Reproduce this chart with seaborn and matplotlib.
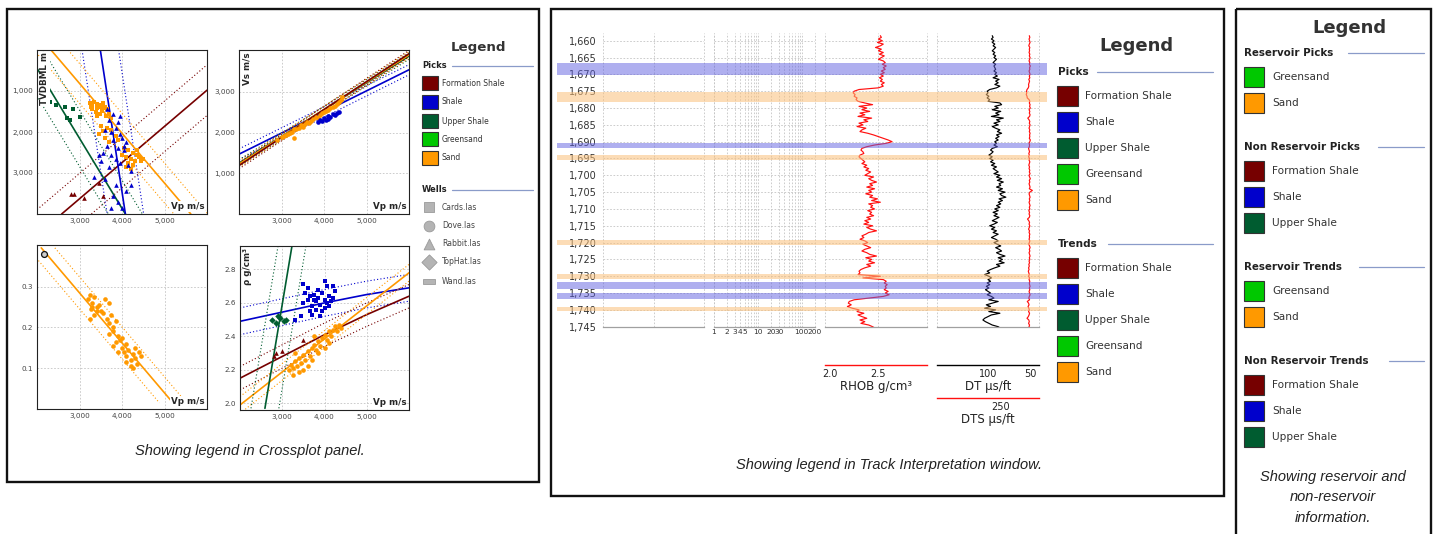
import matplotlib
matplotlib.use('Agg')
import matplotlib.pyplot as plt
from matplotlib.patches import Rectangle
from matplotlib.ticker import FuncFormatter, NullFormatter
import numpy as np
import seaborn as sns

W, H = 1436, 534

# ---------------- legend / facies definitions ----------------
facies = ['Formation Shale', 'Shale', 'Upper Shale', 'Greensand', 'Sand']
facies_colors = ['#760000', '#0000cc', '#005c30', '#00c800', '#ff9900']
pal = dict(zip(facies, facies_colors))
reservoir = ['Greensand', 'Sand']
non_reservoir = ['Formation Shale', 'Shale', 'Upper Shale']
wells = ['Cards.las', 'Dove.las', 'Rabbit.las', 'TopHat.las', 'Wand.las']

# ---------------- crossplot 1: Vp vs TVDBML ----------------
tl_sand_vp = [3250, 3300, 3350, 3400, 3450, 3500, 3550, 3300, 3380, 3420, 3600, 3650, 3520, 3700, 3480,
              3280, 3560, 3620, 3750, 3400, 3500, 3650, 3750, 3450, 3600, 3850, 3700, 3900, 3550,
              4050, 4150, 4250, 4350, 4100, 4200, 4300, 4400, 4150, 4250, 4450, 4000, 4350, 4500, 4200, 4100]
tl_sand_depth = [1300, 1350, 1280, 1320, 1400, 1350, 1300, 1450, 1500, 1420, 1380, 1450, 1480, 1550, 1560,
                 1380, 1420, 1600, 1650, 1600, 1850, 1900, 1950, 2050, 2150, 2100, 2250, 2200, 1980,
                 2400, 2450, 2500, 2550, 2600, 2650, 2700, 2600, 2750, 2800, 2700, 2550, 2450, 2650, 2900, 2850]
tl_shale_vp = [3650, 3800, 3700, 3900, 3850, 3750, 3950, 4000, 3800, 4100, 3650, 3900, 4050, 3550, 3750,
               3850, 3950, 4150, 3700, 3500, 3450, 4200, 3600, 3350, 3850, 3800, 4100, 4200, 3900, 4000,
               3750, 4050, 3600, 3950]
tl_shale_depth = [1450, 1550, 1700, 1750, 1900, 2000, 2050, 2150, 2200, 2250, 2350, 2400, 2450, 2500, 2550,
                  2650, 2750, 2800, 2850, 2700, 2550, 2950, 3150, 3100, 3300, 3550, 3450, 3300, 3700, 3850,
                  3850, 2350, 1950, 1600]
tl_upper_vp = [2300, 2450, 2650, 2700, 2780, 2850, 3020]
tl_upper_depth = [1270, 1330, 1390, 1650, 1700, 1450, 1630]
tl_fshale_vp = [2800, 2880, 3100, 3450, 3550]
tl_fshale_depth = [3500, 3500, 3600, 3250, 3550]
# trend lines: [solid, lower envelope, upper envelope] as (vp, depth)
tl_lines = {
    'Formation Shale': [([2580, 6000], [4000, 980]), ([1880, 6000], [4000, 362]), ([3280, 6000], [4000, 1598])],
    'Upper Shale': [([1740, 4080], [0, 4000]), ([1340, 3680], [0, 4000]), ([2140, 4480], [0, 4000])],
    'Shale': [([3490, 4080], [0, 4000]), ([3060, 3650], [0, 4000]), ([3920, 4510], [0, 4000])],
    'Sand': [([2330, 5620], [0, 4000]), ([1930, 5220], [0, 4000]), ([2730, 6020], [0, 4000])],
}

# ---------------- crossplot 2: Vp vs Vs ----------------
tr_sand_vp = [2900, 3000, 3050, 3100, 3150, 3200, 3250, 3300, 3350, 3400, 3450, 3500, 3550, 3600, 3650, 3700,
              3750, 3800, 3850, 3900, 3950, 4000, 4050, 4100, 4150, 4200, 4250, 4300, 4350, 4400, 4420, 3300]
tr_sand_vs = [1830, 1880, 1920, 1950, 1960, 2000, 2020, 2090, 2080, 2120, 2180, 2150, 2210, 2260, 2240, 2290,
              2330, 2380, 2350, 2440, 2470, 2510, 2540, 2560, 2600, 2620, 2660, 2700, 2750, 2800, 2880, 1860]
tr_shale_vp = [3850, 3900, 3950, 4000, 4050, 4100, 4150, 4200, 4250, 4300, 4350, 4100]
tr_shale_vs = [2260, 2300, 2280, 2350, 2320, 2400, 2380, 2450, 2430, 2480, 2500, 2330]
tr_lines = {
    'Shale': [([2000, 6000], [1470, 3544]), ([2000, 6000], [1340, 3420]), ([2000, 6000], [1600, 3670])],
    'Upper Shale': [([2000, 6000], [1250, 3880]), ([2000, 6000], [1170, 3800]), ([2000, 6000], [1330, 3960])],
    'Sand': [([2000, 6000], [1227, 3910]), ([2000, 6000], [1150, 3830]), ([2000, 6000], [1305, 3990])],
    'Formation Shale': [([2000, 6000], [1190, 3940]), ([2000, 6000], [1110, 3860]), ([2000, 6000], [1270, 4020])],
}

# ---------------- crossplot 3: Vp vs Poisson ratio ----------------
bl_sand_vp = [3200, 3250, 3300, 3350, 3400, 3280, 3350, 3450, 3500, 3550, 3250, 3600, 3400, 3300, 3700,
              3650, 3700, 3750, 3800, 3850, 3780, 3700, 3900, 3950, 3850, 4000, 3800, 4100,
              4000, 4050, 4100, 4150, 4200, 4250, 4300, 4350, 4100, 4200, 4400, 4450, 3900, 4300, 4250]
bl_sand_pr = [0.27, 0.28, 0.26, 0.275, 0.25, 0.245, 0.23, 0.255, 0.24, 0.235, 0.22, 0.27, 0.24, 0.25, 0.26,
              0.22, 0.21, 0.23, 0.20, 0.215, 0.19, 0.185, 0.18, 0.17, 0.165, 0.175, 0.155, 0.16,
              0.15, 0.14, 0.13, 0.145, 0.12, 0.135, 0.125, 0.11, 0.115, 0.105, 0.14, 0.13, 0.14, 0.15, 0.10]
bl_ref_vp = [2160]
bl_ref_pr = [0.38]
bl_lines = {
    'Sand': [([2100, 5200], [0.395, 0.015]), ([1780, 4880], [0.395, 0.015]), ([2420, 5520], [0.395, 0.015])],
}

# ---------------- crossplot 4: Vp vs density ----------------
br_shale_vp = [3500, 3600, 3700, 3750, 3800, 3850, 3900, 3950, 4000, 4050, 4100, 3650, 3700, 3800, 3900, 4000,
               4150, 4200, 3550, 3600, 4050, 4250, 3450, 3850, 3750, 3950, 4100, 3650, 3300, 3500, 4000, 4200]
br_shale_rho = [2.60, 2.62, 2.58, 2.65, 2.61, 2.63, 2.59, 2.66, 2.62, 2.60, 2.64, 2.55, 2.53, 2.56, 2.52, 2.57,
                2.61, 2.63, 2.66, 2.69, 2.70, 2.67, 2.52, 2.68, 2.62, 2.55, 2.58, 2.64, 2.50, 2.71, 2.73, 2.70]
br_upper_vp = [2750, 2850, 2950, 3050, 2900, 3100]
br_upper_rho = [2.50, 2.48, 2.51, 2.49, 2.52, 2.50]
br_fshale_vp = [2800, 2850, 3000, 3500]
br_fshale_rho = [2.28, 2.30, 2.31, 2.38]
br_sand_vp = [3150, 3200, 3250, 3300, 3350, 3400, 3450, 3500, 3550, 3600, 3650, 3700, 3750, 3800, 3850, 3900,
              3950, 4000, 4050, 4100, 4150, 4200, 4250, 4300, 4350, 4400, 3250, 3400, 3600, 3700, 3300, 3850,
              4000, 4100, 3500, 3750]
br_sand_rho = [2.20, 2.23, 2.21, 2.25, 2.22, 2.27, 2.24, 2.29, 2.26, 2.31, 2.28, 2.33, 2.35, 2.32, 2.37, 2.34,
               2.39, 2.41, 2.38, 2.43, 2.40, 2.44, 2.46, 2.43, 2.47, 2.45, 2.17, 2.19, 2.22, 2.26, 2.30, 2.30,
               2.33, 2.36, 2.20, 2.40]
br_curve_vp = [2000, 3000, 4000, 5000, 6000]
br_lines = {
    'Shale': [(br_curve_vp, [2.49, 2.545, 2.60, 2.65, 2.69]), (br_curve_vp, [2.41, 2.465, 2.52, 2.57, 2.61]),
              (br_curve_vp, [2.57, 2.625, 2.68, 2.73, 2.77])],
    'Formation Shale': [(br_curve_vp, [2.15, 2.28, 2.41, 2.53, 2.64]), (br_curve_vp, [2.08, 2.21, 2.34, 2.46, 2.57]),
                        (br_curve_vp, [2.22, 2.35, 2.48, 2.60, 2.71])],
    'Sand': [([2000, 6000], [1.99, 2.78]), ([2000, 6000], [1.94, 2.73]), ([2000, 6000], [2.04, 2.83])],
    'Upper Shale': [([2590, 3230], [1.97, 2.94]), ([2260, 2900], [1.97, 2.94]), ([2920, 3560], [1.97, 2.94])],
}

# ---------------- well logs (0.5 m samples) ----------------
depth = np.arange(1658.5, 1746.0, 0.5)
rhob = [2.52, 2.53, 2.50, 2.54, 2.49, 2.55, 2.52, 2.47, 2.53, 2.50,
        2.55, 2.51, 2.56, 2.53, 2.50, 2.55, 2.57, 2.54, 2.58, 2.55,
        2.57, 2.53, 2.56, 2.52, 2.55, 2.51, 2.54, 2.52, 2.56, 2.53,
        2.55, 2.50, 2.30, 2.25, 2.24, 2.26, 2.25, 2.28, 2.27, 2.29,
        2.36, 2.44, 2.30, 2.38, 2.33, 2.41, 2.31, 2.36, 2.29, 2.43,
        2.35, 2.39, 2.30, 2.34, 2.28, 2.37, 2.33, 2.31, 2.39, 2.45,
        2.50, 2.55, 2.60, 2.64, 2.58, 2.46, 2.38, 2.33, 2.32, 2.34,
        2.35, 2.31, 2.30, 2.32, 2.34, 2.36, 2.33, 2.38, 2.35, 2.40,
        2.37, 2.42, 2.39, 2.36, 2.45, 2.40, 2.43, 2.48, 2.41, 2.44,
        2.38, 2.46, 2.40, 2.43, 2.37, 2.44, 2.41, 2.49, 2.43, 2.52,
        2.40, 2.44, 2.42, 2.46, 2.39, 2.43, 2.41, 2.45, 2.38, 2.42,
        2.36, 2.40, 2.35, 2.44, 2.38, 2.42, 2.48, 2.40, 2.37, 2.33,
        2.35, 2.31, 2.36, 2.39, 2.34, 2.38, 2.42, 2.36, 2.33, 2.38,
        2.41, 2.48, 2.37, 2.43, 2.40, 2.46, 2.38, 2.42, 2.36, 2.32,
        2.30, 2.31, 2.29, 2.52, 2.34, 2.55, 2.58, 2.56, 2.59, 2.57,
        2.58, 2.56, 2.60, 2.57, 2.61, 2.55, 2.40, 2.25, 2.20, 2.19,
        2.22, 2.18, 2.23, 2.30, 2.28, 2.35, 2.29, 2.33, 2.38, 2.31,
        2.36, 2.32, 2.40, 2.44, 2.47]
dt = [95, 94, 96, 93, 95, 92, 94, 91, 93, 95,
      92, 94, 91, 93, 90, 92, 94, 91, 93, 92,
      91, 93, 90, 92, 89, 94, 87, 91, 88, 92,
      86, 90, 98, 101, 100, 102, 99, 101, 98, 100,
      86, 84, 92, 88, 95, 85, 91, 87, 96, 82,
      90, 86, 93, 88, 95, 91, 86, 89, 84, 90,
      87, 91, 88, 92, 90, 93, 89, 95, 97, 94,
      96, 99, 95, 98, 94, 97, 92, 96, 90, 94,
      91, 88, 93, 86, 90, 84, 89, 82, 87, 85,
      90, 83, 88, 80, 86, 84, 79, 87, 83, 88,
      85, 90, 86, 92, 88, 94, 89, 93, 87, 91,
      95, 89, 93, 98, 92, 96, 90, 94, 88, 92,
      96, 91, 88, 93, 89, 85, 91, 87, 84, 90,
      86, 80, 88, 83, 87, 81, 90, 86, 92, 97,
      101, 98, 104, 99, 96, 100, 97, 101, 98, 102,
      99, 103, 100, 97, 101, 96, 93, 99, 88, 95,
      102, 97, 104, 91, 99, 86, 96, 100, 104, 106,
      103, 99, 95, 88, 85]
dts = [138, 136, 139, 137, 135, 138, 140, 136, 138, 137,
       139, 136, 138, 135, 137, 139, 136, 138, 134, 137,
       136, 139, 137, 135, 138, 136, 140, 137, 139, 141,
       140, 142, 147, 149, 148, 150, 147, 146, 139, 136,
       138, 135, 137, 134, 139, 136, 138, 135, 137, 144,
       139, 136, 138, 135, 137, 139, 136, 138, 135, 137,
       136, 138, 134, 136, 139, 137, 138, 141, 139, 137,
       140, 138, 141, 137, 139, 136, 138, 140, 137, 139,
       136, 138, 135, 139, 137, 134, 138, 136, 139, 137,
       135, 138, 126, 136, 139, 137, 135, 138, 136, 139,
       137, 135, 138, 136, 140, 137, 139, 136, 138, 145,
       140, 137, 139, 136, 138, 141, 137, 139, 136, 138,
       137, 139, 136, 138, 140, 137, 135, 138, 136, 139,
       137, 135, 138, 136, 139, 137, 140, 138, 141, 139,
       142, 140, 138, 141, 137, 139, 136, 138, 137, 135,
       138, 136, 139, 137, 135, 138, 140, 137, 146, 141,
       139, 143, 140, 138, 141, 137, 139, 142, 147, 140,
       138, 141, 137, 139, 136]
depth_ticks = list(range(1660, 1750, 5))
shale_band_top = [1666.6, 1690.3, 1731.8, 1735.0]
shale_band_base = [1670.2, 1692.0, 1733.9, 1736.8]
sand_band_top = [1675.3, 1694.0, 1719.2, 1729.3, 1739.0]
sand_band_base = [1678.1, 1695.5, 1720.7, 1730.9, 1740.3]
log_ticks = [1, 2, 3, 4, 5, 10, 20, 30, 100, 200]
log_minor = [6, 7, 8, 9, 40, 50, 60, 70, 80, 90]

# ---------------- figure ----------------
sns.set_style('white')
plt.rcParams['font.family'] = ['DejaVu Sans']
fig = plt.figure(figsize=(W / 100, H / 100), dpi=100)


def px_axes(x0, y0, x1, y1):
    return fig.add_axes([x0 / W, 1 - y1 / H, (x1 - x0) / W, (y1 - y0) / H])


bg = px_axes(0, 0, W, H)
bg.set_xlim(0, W)
bg.set_ylim(H, 0)
bg.axis('off')
for x0, y0, x1, y1 in [(7, 9, 539, 482), (551, 9, 1224, 496), (1236, 9, 1431, 560)]:
    bg.add_patch(Rectangle((x0, y0), x1 - x0, y1 - y0, fill=False, lw=1.7, ec='#111111'))

GRID = dict(color='#c4c4c4', linestyle=(0, (2, 2)), linewidth=0.6)
comma = FuncFormatter(lambda v, p: f'{v:,.0f}')
onedec = FuncFormatter(lambda v, p: f'{v:.1f}')


def crossplot(box, points, lines, ylim, yticks, yfmt, ylabel):
    ax = px_axes(*box)
    ax.set_axisbelow(True)
    for fac, segs in lines.items():
        for i, (xs, ys) in enumerate(segs):
            sns.lineplot(x=xs, y=ys, ax=ax, color=pal[fac], sort=False, estimator=None,
                         linewidth=1.2 if i == 0 else 0.8,
                         linestyle='-' if i == 0 else (0, (1, 2)))
    for fac, xs, ys, mk in points:
        sns.scatterplot(x=xs, y=ys, ax=ax, color=pal[fac], marker=mk, s=11,
                        linewidth=0, zorder=3)
    ax.set_xlim(2000, 6000)
    ax.set_ylim(*ylim)
    ax.set_xticks([3000, 4000, 5000])
    ax.xaxis.set_major_formatter(comma)
    ax.set_yticks(yticks)
    ax.yaxis.set_major_formatter(yfmt)
    ax.tick_params(labelsize=5.2, labelcolor='#444444', length=0, pad=3)
    ax.grid(True, **GRID)
    for s in ax.spines.values():
        s.set_color('#222222')
        s.set_linewidth(0.8)
    ax.set_xlabel('')
    ax.set_ylabel('')
    box_kw = dict(fc='white', ec='none', pad=0.6)
    ax.text(0.985, 0.02, 'Vp m/s', transform=ax.transAxes, ha='right', va='bottom',
            fontsize=6.3, fontweight='bold', bbox=box_kw, zorder=6)
    if ylabel:
        ax.text(0.02, 0.985, ylabel, transform=ax.transAxes, rotation=90, ha='left', va='top',
                fontsize=6.3, fontweight='bold', bbox=box_kw, zorder=6)
    return ax


crossplot((37, 50, 207, 214),
          [('Sand', tl_sand_vp, tl_sand_depth, 's'), ('Shale', tl_shale_vp, tl_shale_depth, '^'),
           ('Upper Shale', tl_upper_vp, tl_upper_depth, 's'),
           ('Formation Shale', tl_fshale_vp, tl_fshale_depth, '^')],
          tl_lines, (4000, 0), [1000, 2000, 3000], comma, 'TVDBML m')
crossplot((239, 50, 409, 214),
          [('Sand', tr_sand_vp, tr_sand_vs, 'o'), ('Shale', tr_shale_vp, tr_shale_vs, 'o')],
          tr_lines, (0, 4030), [1000, 2000, 3000], comma, 'Vs m/s')
ax_bl = crossplot((37, 245, 207, 409), [('Sand', bl_sand_vp, bl_sand_pr, 'o')],
                  bl_lines, (0, 0.402), [0.1, 0.2, 0.3], onedec, None)
sns.scatterplot(x=bl_ref_vp, y=bl_ref_pr, ax=ax_bl, marker='o', s=18, color='#cccccc',
                edgecolor='#111111', linewidth=0.9, zorder=4)
ax_bl.set_ylim(0, 0.402)
crossplot((240, 246, 409, 410),
          [('Sand', br_sand_vp, br_sand_rho, 'o'), ('Shale', br_shale_vp, br_shale_rho, 's'),
           ('Upper Shale', br_upper_vp, br_upper_rho, 'D'),
           ('Formation Shale', br_fshale_vp, br_fshale_rho, '^')],
          br_lines, (1.96, 2.94), [2.0, 2.2, 2.4, 2.6, 2.8], onedec, 'ρ g/cm³')

# ---------------- legend helpers ----------------
LINE_C = '#8a9bc9'


def section(x, y, title, lx0, lx1, fs):
    bg.text(x, y, title, fontsize=fs, fontweight='bold', va='center', ha='left', color='#222222')
    bg.plot([lx0, lx1], [y, y], color=LINE_C, lw=0.9)


def swatches(x, ys, labels, w, h, tx, fs):
    for y, lab in zip(ys, labels):
        bg.add_patch(Rectangle((x, y - h / 2), w, h, fc=pal[lab], ec='#333333', lw=0.8))
        bg.text(tx, y, lab, fontsize=fs, va='center', ha='left', color='#333333')


# crossplot legend
bg.text(478, 47, 'Legend', fontsize=9.6, fontweight='bold', ha='center', va='center', color='#333333')
section(422, 66, 'Picks', 452, 533, 6)
swatches(422, [83, 102, 121, 139, 158], facies, 16, 14, 442, 5.5)
section(422, 190, 'Wells', 452, 533, 6)
well_y = [207, 226, 244, 262, 281]
for mk, y in zip(['s', 'o', '^', 'D'], well_y):
    bg.scatter([429], [y], marker=mk, s=60, color='#b4b4b4', edgecolor='#9a9a9a', linewidth=0.6)
for y, lab in zip(well_y, wells):
    bg.text(442, y, lab, fontsize=5.5, va='center', ha='left', color='#444444')
bg.add_patch(Rectangle((423, well_y[4] - 2.5), 12, 5, fc='#b4b4b4', ec='#9a9a9a', lw=0.6))

# track legend
bg.text(1136, 46, 'Legend', fontsize=13, fontweight='bold', ha='center', va='center', color='#333333')
section(1058, 72, 'Picks', 1097, 1213, 7.6)
swatches(1057, [96, 122, 148, 174, 200], facies, 21, 20, 1085, 7.6)
section(1058, 244, 'Trends', 1108, 1213, 7.6)
swatches(1057, [268, 294, 320, 346, 372], facies, 21, 20, 1085, 7.6)

# reservoir legend
bg.text(1349, 28, 'Legend', fontsize=13, fontweight='bold', ha='center', va='center', color='#333333')
section(1244, 53, 'Reservoir Picks', 1348, 1424, 7.4)
swatches(1244, [77, 103], reservoir, 20, 20, 1272, 7.6)
section(1244, 147, 'Non Reservoir Picks', 1378, 1424, 7.4)
swatches(1244, [171, 197, 223], non_reservoir, 20, 20, 1272, 7.6)
section(1244, 267, 'Reservoir Trends', 1359, 1424, 7.4)
swatches(1244, [291, 317], reservoir, 20, 20, 1272, 7.6)
section(1244, 361, 'Non Reservoir Trends', 1389, 1424, 7.4)
swatches(1244, [385, 411, 437], non_reservoir, 20, 20, 1272, 7.6)

# captions
cap = dict(fontsize=10.5, style='italic', family=['Liberation Sans', 'DejaVu Sans'],
           ha='center', va='center', color='#222222')
bg.text(250, 451, 'Showing legend in Crossplot panel.', **cap)
bg.text(889, 465, 'Showing legend in Track Interpretation window.', **cap)
bg.text(1333, 477, 'Showing reservoir and', **cap)
bg.text(1333, 497, 'non-reservoir', **cap)
bg.text(1333, 518, 'information.', **cap)

# ---------------- tracks ----------------
T_TOP, T_BOT = 33, 326.7
DEPTH_LIM = (1745, 1657.7)


def track(x0, x1, xlim, vlines, log=False):
    ax = px_axes(x0, T_TOP, x1, T_BOT)
    ax.set_facecolor('none')
    if log:
        ax.set_xscale('log')
    ax.set_xlim(*xlim)
    ax.set_ylim(*DEPTH_LIM)
    ax.set_yticks(depth_ticks)
    ax.yaxis.grid(True, **GRID)
    for v in vlines:
        ax.axvline(v, clip_on=False, **GRID)
    for side in ['top', 'left', 'right']:
        ax.spines[side].set_visible(False)
    ax.spines['bottom'].set_color('#a0a0a0')
    ax.spines['bottom'].set_linewidth(0.9)
    ax.tick_params(axis='y', labelleft=False, length=0)
    ax.tick_params(axis='x', length=0)
    ax.set_xticks([])
    return ax


t1 = track(603, 704, (0, 1), [0, 0.5, 1])
t1.tick_params(axis='y', labelleft=True, labelsize=7, labelcolor='#333333', length=3,
               color='#999999', width=0.6, pad=1.5)
t1.yaxis.set_major_formatter(comma)

t2 = track(714, 815, (1, 200), [1, 200], log=True)
t2.set_xticks(log_ticks)
t2.set_xticklabels([str(v) for v in log_ticks])
t2.set_xticks(log_minor, minor=True)
t2.xaxis.set_minor_formatter(NullFormatter())
t2.xaxis.grid(True, which='both', **GRID)
t2.tick_params(axis='x', which='both', length=0, labelsize=5.4, labelcolor='#333333', pad=2)

t3 = track(825, 927, (1.95, 3.0), [1.95, 2.5, 3.0])
sns.lineplot(x=rhob, y=depth, ax=t3, orient='y', estimator=None, color='#ff1010', linewidth=0.85)
t3.set_ylim(*DEPTH_LIM)
t3.set_xlabel('')
t3.set_ylabel('')

t4 = track(937, 1039, (160, 40), [160, 40])
sns.lineplot(x=dt, y=depth, ax=t4, orient='y', estimator=None, color='#000000', linewidth=0.85)
t4.set_xlabel('')
t4.set_ylabel('')
t4b = t4.twiny()
sns.lineplot(x=dts, y=depth, ax=t4b, orient='y', estimator=None, color='#ff1010', linewidth=0.85)
t4b.set_xlim(500, 100)
t4b.axis('off')
t4.set_ylim(*DEPTH_LIM)

# interval bands (semi transparent, drawn over the curves)
bands = px_axes(557, T_TOP, 1047, T_BOT)
bands.set_facecolor('none')
bands.set_xlim(0, 1)
bands.set_ylim(*DEPTH_LIM)
bands.axis('off')
for top, base in zip(shale_band_top, shale_band_base):
    bands.axhspan(top, base, color='#6060e0', alpha=0.5, lw=0)
for top, base in zip(sand_band_top, sand_band_base):
    bands.axhspan(top, base, color='#fac07a', alpha=0.55, lw=0)


def scale_bar(x0, y, x1, xlim, ticks, labels, name, color):
    ax = px_axes(x0, y, x1, y + 0.5)
    ax.set_facecolor('none')
    ax.set_xlim(*xlim)
    ax.set_yticks([])
    ax.set_xticks(ticks)
    ax.set_xticklabels(labels)
    for side in ['left', 'right', 'bottom']:
        ax.spines[side].set_visible(False)
    ax.spines['top'].set_color(color)
    ax.spines['top'].set_linewidth(1.0)
    ax.tick_params(axis='x', length=0, labelsize=7, pad=2.5, labelcolor='#222222')
    ax.set_xlabel(name, fontsize=8.5, labelpad=1, color='#222222')


scale_bar(825, 365, 927, (1.95, 3.0), [2.0, 2.5], ['2.0', '2.5'], 'RHOB g/cm³', '#ff1010')
scale_bar(937, 365, 1039, (160, 40), [100, 50], ['100', '50'], 'DT µs/ft', '#000000')
scale_bar(937, 398, 1039, (500, 100), [250], ['250'], 'DTS µs/ft', '#ff1010')

fig.savefig('out.png', dpi=100)
